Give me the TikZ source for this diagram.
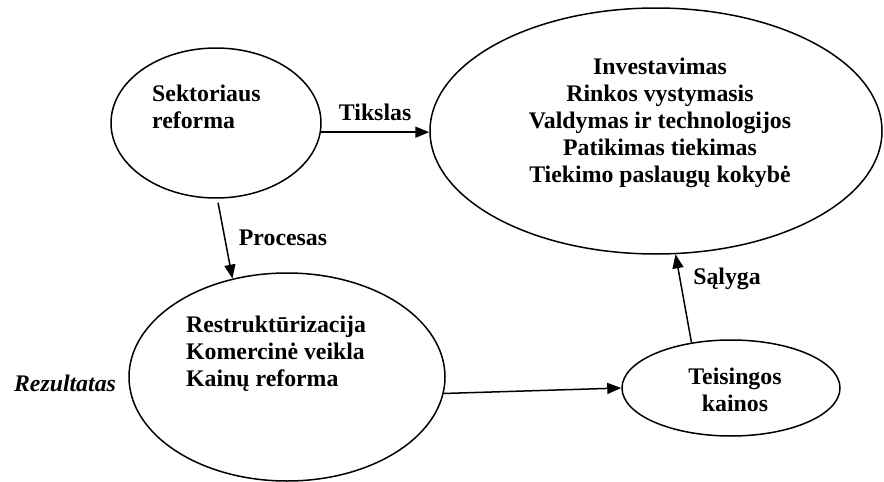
\documentclass[tikz,border=0pt]{standalone}
\usepackage{fontspec}
\setmainfont{Liberation Serif}
\usetikzlibrary{shapes.geometric,arrows.meta}
\begin{document}
\begin{tikzpicture}[x=1pt,y=-1pt,
  oval/.style={draw,ellipse,line width=1.5pt,inner sep=0pt},
  txt/.style={font=\fontsize{23.8}{27}\selectfont\bfseries,inner sep=0pt},
  lbl/.style={font=\fontsize{23.8}{27}\selectfont\bfseries,inner sep=0pt},
  arr/.style={line width=1.5pt,-{Triangle[length=14pt,width=11pt]}}]
\useasboundingbox (0,0) rectangle (884,482);
% ellipses
\node[oval,minimum width=210pt,minimum height=150pt] (e1) at (216,123) {};
\node[oval,minimum width=452pt,minimum height=246pt] (e2) at (656,131) {};
\node[oval,minimum width=316pt,minimum height=208pt] (e3) at (287,377) {};
\node[oval,minimum width=218pt,minimum height=96pt] (e4) at (731,388) {};
% texts
\node[txt,align=left,anchor=west] (t1) at (152,107) {Sektoriaus\\reforma};
\node[txt,align=center] (t2) at (660,123) {Investavimas\\Rinkos vystymasis\\Valdymas ir technologijos\\Patikimas tiekimas\\Tiekimo paslaugų kokybė};
\node[txt,align=left,anchor=west] (t3) at (186,354) {Restruktūrizacija\\Komercinė veikla\\Kainų reforma};
\node[txt,align=center] (t4) at (735,390) {Teisingos\\kainos};
\node[lbl,font=\fontsize{23.8}{27}\selectfont\bfseries\itshape] (rez) at (65,383) {Rezultatas};
% connectors
\draw[arr] (e1.-5) -- (e1.-5 -| e2.west) node[lbl,midway,above=11pt] (tikslas) {Tikslas};
\draw[arr,shorten <=4pt] (e1.271) -- (e3.119);
\node[lbl] (procesas) at (283,238) {Procesas};
\draw[arr] (e3.-6) -- (e4.west);
\draw[arr] (e4.131.6) -- (e2.-81.4);
\node[lbl] (salyga) at (727,279) {Sąlyga};
\end{tikzpicture}
\end{document}
